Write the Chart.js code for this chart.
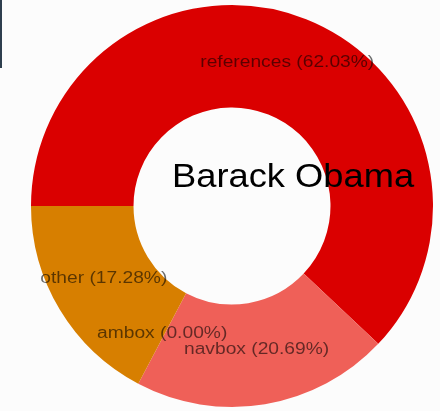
<!DOCTYPE html>
<html>
<head>
<meta charset="utf-8">
<script src="https://cdn.jsdelivr.net/npm/chart.js@4/dist/chart.umd.min.js"></script>
<style>
  html, body { margin: 0; padding: 0; background: #fcfcfc; overflow: hidden; }
  #wrap { position: relative; width: 440px; height: 411px; }
  #edge { position: absolute; left: 0; top: 0; width: 2px; height: 68px; background: #2e3f4e; }
  canvas { position: absolute; left: 0; top: 0; }
</style>
</head>
<body>
<div id="wrap">
  <canvas id="chart" width="440" height="411"></canvas>
  <div id="edge"></div>
</div>
<script>
// Template usage on the article page, share of each category
const title = 'Barack Obama';
const categories = ['references', 'navbox', 'ambox', 'other'];
const shares = [62.03, 20.69, 0.00, 17.28];
const sliceColors = ['#da0000', '#ef6058', '#d77f00', '#d77f00'];

// Writes "name (xx.xx%)" at the centroid of each arc
const sliceLabels = {
  id: 'sliceLabels',
  afterDatasetsDraw(chart) {
    const ctx = chart.ctx;
    const meta = chart.getDatasetMeta(0);
    ctx.save();
    ctx.font = '16px "Liberation Sans", Arial, sans-serif';
    ctx.fillStyle = 'rgba(0,0,0,0.58)';
    ctx.textAlign = 'center';
    ctx.textBaseline = 'alphabetic';
    meta.data.forEach((arc, i) => {
      const p = arc.getCenterPoint();
      const text = categories[i] + ' (' + shares[i].toFixed(2) + '%)';
      ctx.save();
      ctx.translate(p.x, p.y);
      ctx.scale(1.2, 1);
      ctx.fillText(text, 0, 0);
      ctx.restore();
    });
    ctx.restore();
  }
};

// Page heading drawn over the ring
const heading = {
  id: 'heading',
  afterDraw(chart) {
    const ctx = chart.ctx;
    const a = chart.chartArea;
    const cx = (a.left + a.right) / 2;
    const cy = (a.top + a.bottom) / 2;
    ctx.save();
    ctx.font = '33px "Liberation Sans", Arial, sans-serif';
    ctx.fillStyle = '#000';
    ctx.textAlign = 'left';
    ctx.textBaseline = 'alphabetic';
    ctx.translate(cx - 60, cy - 19);
    ctx.scale(1.1, 1);
    ctx.fillText(title, 0, 0);
    ctx.restore();
  }
};

new Chart(document.getElementById('chart'), {
  type: 'doughnut',
  data: {
    labels: categories,
    datasets: [{
      data: shares,
      backgroundColor: sliceColors,
      borderWidth: 0,
      hoverOffset: 0
    }]
  },
  options: {
    responsive: false,
    animation: false,
    cutout: '49%',
    rotation: 270,
    layout: { padding: { left: 31, top: 5, right: 7, bottom: 4 } },
    plugins: {
      legend: { display: false },
      tooltip: { enabled: false }
    }
  },
  plugins: [sliceLabels, heading]
});
</script>
</body>
</html>
